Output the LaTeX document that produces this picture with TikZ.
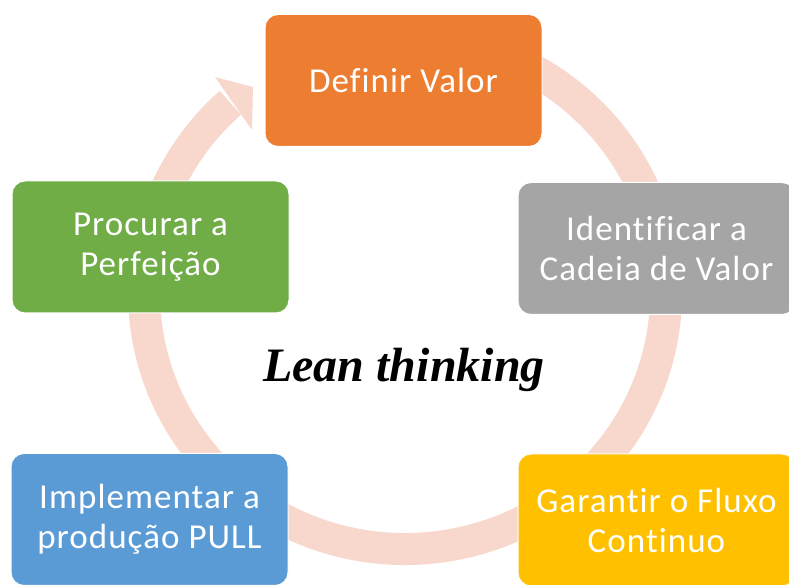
\documentclass[tikz,border=0pt]{standalone}
\usepackage{fontspec}
\newfontfamily\boxfont[Ligatures=NoCommon,LetterSpace=3]{Carlito}
\newfontfamily\titlefont{Liberation Serif}
\definecolor{ringcol}{HTML}{F8D7CD}
\definecolor{orangebox}{HTML}{ED7D31}
\definecolor{graybox}{HTML}{A5A5A5}
\definecolor{yellowbox}{HTML}{FFC000}
\definecolor{bluebox}{HTML}{5B9BD5}
\definecolor{greenbox}{HTML}{70AD47}

\begin{document}
\begin{tikzpicture}[x=1pt,y=1pt,
  stepbox/.style={rounded corners=13pt,draw=white,line width=1pt,text=white,
    minimum width=277pt,minimum height=132pt,align=center,
    font=\boxfont\fontsize{35}{40}\selectfont}]
\useasboundingbox (0,0) rectangle (789,585);

% ring with arrow head
\draw[ringcol,line width=32pt] (405,292) ++(100:261 and 256)
  arc[start angle=100,end angle=-228,x radius=261pt,y radius=256pt];
\fill[ringcol] (215,508) -- (253,498) -- (252,455) -- cycle;

% boxes
\node[stepbox,fill=orangebox] (valor) at (403.5,504.5) {Definir Valor};
\node[stepbox,fill=graybox] (cadeia) at (656.5,336.5) {Identificar a\\Cadeia de Valor};
\node[stepbox,fill=yellowbox] (fluxo) at (656.5,65) {Garantir o Fluxo\\Continuo};
\node[stepbox,fill=bluebox] (pull) at (149.5,65.5) {Implementar a\\produção PULL};
\node[stepbox,fill=greenbox] (perf) at (150.5,338) {Procurar a\\Perfeição};

% label
\node[font=\titlefont\bfseries\itshape\fontsize{48}{52}\selectfont,anchor=base]
  (lean) at (404,203) {Lean thinking};
\end{tikzpicture}
\end{document}
